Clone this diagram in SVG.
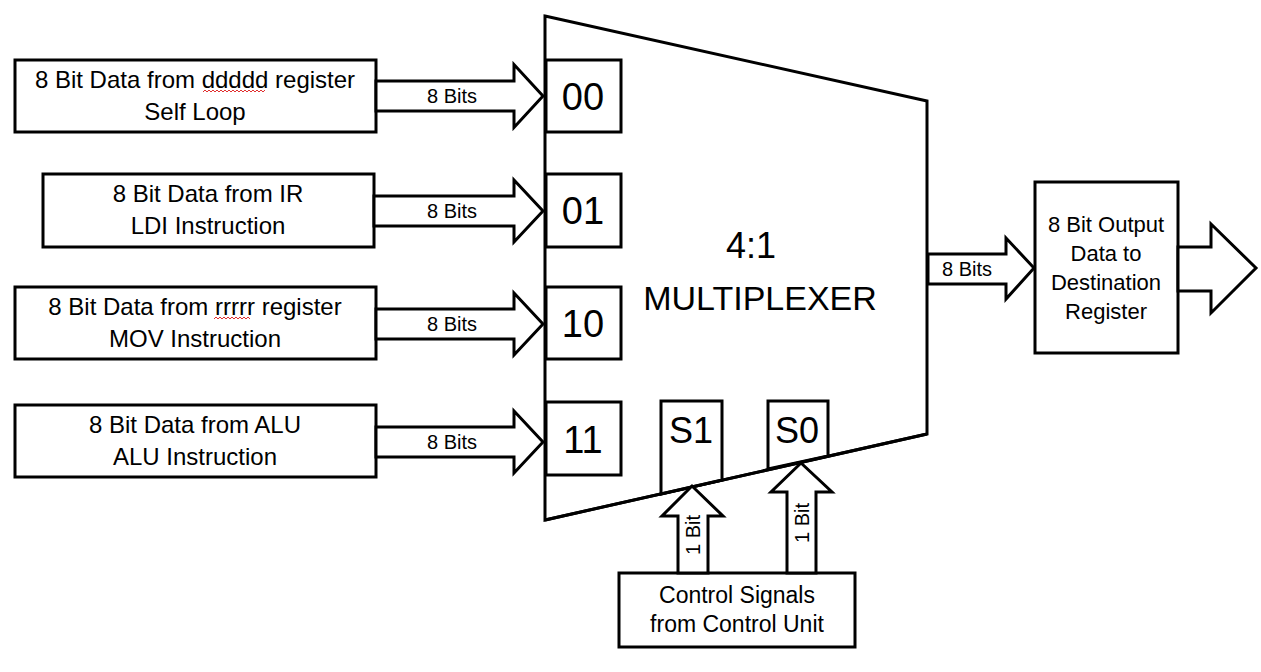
<svg xmlns="http://www.w3.org/2000/svg" width="1261" height="672" viewBox="0 0 1261 672">
<style>
.s{fill:#fff;stroke:#000;stroke-width:3;stroke-linejoin:miter}
.t{font-family:"Liberation Sans",Arial,sans-serif;fill:#000;text-anchor:middle}
.bx{font-size:24px}
.lb{font-size:20px}
.sel{font-size:38px}
.sq{fill:none;stroke:#e03030;stroke-width:1}
</style>
<rect width="1261" height="672" fill="#fff"/>
<g id="mux">
<polygon class="s" points="545,16 927,101 927,434 545,520"/>
<text class="t" x="751" y="258" font-size="36">4:1</text>
<text class="t" x="760" y="310" font-size="34">MULTIPLEXER</text>
</g>
<g id="sel00"><rect class="s" x="546" y="60" width="75" height="72"/><text class="t sel" x="583" y="110">00</text></g>
<g id="sel01"><rect class="s" x="546" y="174" width="75" height="73"/><text class="t sel" x="583" y="224">01</text></g>
<g id="sel10"><rect class="s" x="546" y="287" width="75" height="72"/><text class="t sel" x="583" y="337">10</text></g>
<g id="sel11"><rect class="s" x="546" y="402" width="75" height="73"/><text class="t sel" x="583" y="453">11</text></g>
<g id="s1"><polygon class="s" points="661,401 722,401 722,480 661,494"/><text class="t" x="691" y="443" font-size="36">S1</text></g>
<g id="s0"><polygon class="s" points="768,401 828,401 828,456 768,469"/><text class="t" x="797" y="443" font-size="36">S0</text></g>
<polyline fill="none" stroke="#000" stroke-width="3" points="545,520 927,434"/>
<g id="in1"><rect class="s" x="15" y="60" width="361" height="72"/>
<text class="t bx" x="195" y="88">8 Bit Data from ddddd register</text>
<text class="t bx" x="195" y="120">Self Loop</text>
<path class="sq" d="M203,92 l2,-2 l2,2 l2,-2 l2,2 l2,-2 l2,2 l2,-2 l2,2 l2,-2 l2,2 l2,-2 l2,2 l2,-2 l2,2 l2,-2 l2,2 l2,-2 l2,2 l2,-2 l2,2 l2,-2 l2,2 l2,-2 l2,2 l2,-2 l2,2 l2,-2 l2,2 l2,-2 l2,2 l2,-2"/>
</g>
<g id="in2"><rect class="s" x="43" y="174" width="331" height="73"/>
<text class="t bx" x="208" y="202">8 Bit Data from IR</text>
<text class="t bx" x="208" y="234">LDI Instruction</text>
</g>
<g id="in3"><rect class="s" x="15" y="287" width="361" height="72"/>
<text class="t bx" x="195" y="315">8 Bit Data from rrrrr register</text>
<text class="t bx" x="195" y="347">MOV Instruction</text>
<path class="sq" d="M214,319 l2,-2 l2,2 l2,-2 l2,2 l2,-2 l2,2 l2,-2 l2,2 l2,-2 l2,2 l2,-2 l2,2 l2,-2 l2,2 l2,-2 l2,2 l2,-2 l2,2"/>
</g>
<g id="in4"><rect class="s" x="15" y="405" width="361" height="72"/>
<text class="t bx" x="195" y="433">8 Bit Data from ALU</text>
<text class="t bx" x="195" y="465">ALU Instruction</text>
</g>
<g id="out"><rect class="s" x="1035" y="182" width="143" height="171"/>
<text class="t" x="1106" y="232" font-size="22">8 Bit Output</text>
<text class="t" x="1106" y="261" font-size="22">Data to</text>
<text class="t" x="1106" y="290" font-size="22">Destination</text>
<text class="t" x="1106" y="319" font-size="22">Register</text>
</g>
<g id="ctrl"><rect class="s" x="619" y="573" width="236" height="74"/>
<text class="t" x="737" y="603" font-size="23">Control Signals</text>
<text class="t" x="737" y="632" font-size="23">from Control Unit</text>
</g>
<g id="connectors">
<polygon class="s" points="376,81 514,81 514,64.5 543,96 514,127.5 514,111 376,111"/>
<text class="t lb" x="452" y="103">8 Bits</text>
<polygon class="s" points="374,196 514,196 514,180 543,211 514,242 514,226 374,226"/>
<text class="t lb" x="452" y="218">8 Bits</text>
<polygon class="s" points="376,309 514,309 514,293 543,324 514,355 514,339 376,339"/>
<text class="t lb" x="452" y="331">8 Bits</text>
<polygon class="s" points="376,427 514,427 514,411 543,442 514,473 514,457 376,457"/>
<text class="t lb" x="452" y="449">8 Bits</text>
<polygon class="s" points="928,254 1006,254 1006,238 1034,268 1006,299 1006,284 928,284"/>
<text class="t lb" x="967" y="276">8 Bits</text>
<polygon class="s" points="1178,247 1211,247 1211,224 1256,268 1211,313 1211,291 1178,291"/>
<polygon class="s" points="678,573 678,516 662,516 692,486 723,516 708,516 708,573"/>
<text class="t" font-size="20" transform="translate(700,535) rotate(-90)">1 Bit</text>
<polygon class="s" points="787,573 787,492 771,492 801,463 832,492 816,492 816,573"/>
<text class="t" font-size="20" transform="translate(809,523) rotate(-90)">1 Bit</text>
</g>
</svg>
